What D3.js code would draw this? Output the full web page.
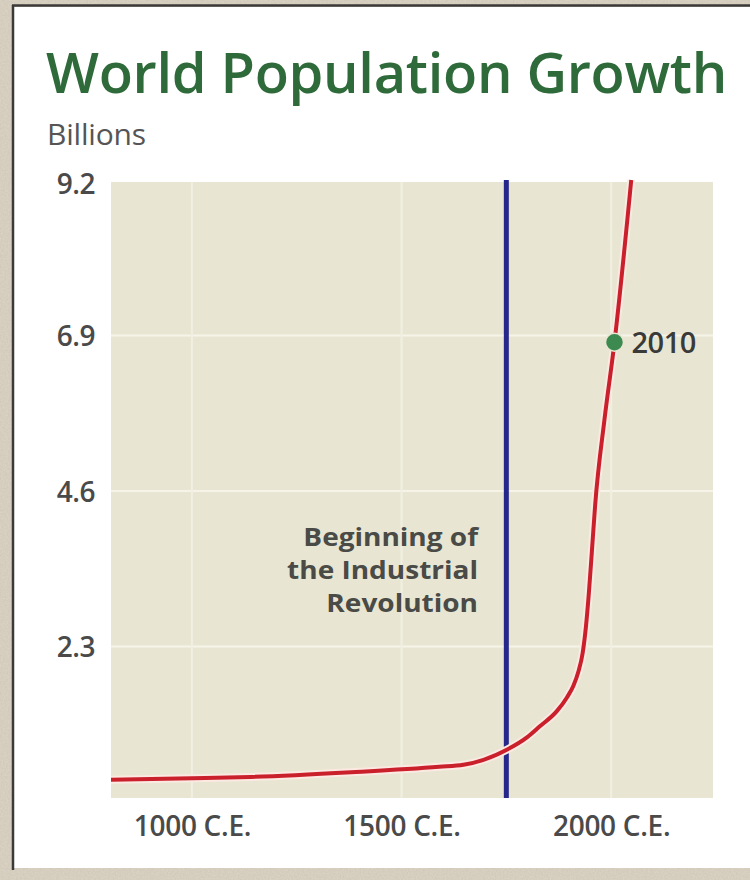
<!DOCTYPE html>
<html>
<head>
<meta charset="utf-8">
<script src="https://cdn.jsdelivr.net/npm/d3@7"></script>
<style>
  body { margin: 0; background: #dcd3c4; }
  svg { display: block; }
  text { font-family: "Open Sans", "Noto Sans", sans-serif; }
</style>
</head>
<body>
<script>
// population curve (year, billions)
var years = [807, 1000, 1140, 1380, 1590, 1648, 1750, 1800, 1830, 1870, 1895, 1910, 1922, 1932, 1940, 1947, 1954, 1962, 1984, 2008, 2048];
var pops  = [0.33, 0.35, 0.37, 0.44, 0.52, 0.55, 0.77, 0.96, 1.12, 1.34, 1.55, 1.72, 1.93, 2.2, 2.6, 3.1, 3.7, 4.4, 5.65, 6.8, 9.2];

var yTicks = [2.3, 4.6, 6.9, 9.2];
var xTicks = [1000, 1500, 2000];
var xTickLabels = ["1000 C.E.", "1500 C.E.", "2000 C.E."];

var industrialYear = 1750;
var markYear = 2008, markPop = 6.8, markLabel = "2010";
var noteLines = ["Beginning of", "the Industrial", "Revolution"];

var W = 750, H = 880;
var plotLeft = 111, plotRight = 713, plotTop = 182, plotBottom = 798;

var svg = d3.select("body").append("svg")
    .attr("width", W)
    .attr("height", H);

////////////////////////////
// stone background + white card
var defs = svg.append("defs");
var f = defs.append("filter").attr("id", "grain").attr("x", 0).attr("y", 0).attr("width", "100%").attr("height", "100%");
f.append("feTurbulence").attr("type", "fractalNoise").attr("baseFrequency", 0.6).attr("numOctaves", 3).attr("seed", 4);
f.append("feColorMatrix").attr("type", "matrix")
    .attr("values", "0 0 0 0 0.45  0 0 0 0 0.4  0 0 0 0 0.33  0 0 0 0.35 0");

svg.append("rect").attr("width", W).attr("height", H).attr("fill", "#ddd5c6");
svg.append("rect").attr("width", W).attr("height", H).attr("filter", "url(#grain)");

svg.append("rect")
    .attr("x", 14).attr("y", 7)
    .attr("width", W - 14).attr("height", 861)
    .attr("fill", "#ffffff");
svg.append("line").attr("x1", 13).attr("x2", 13).attr("y1", 5).attr("y2", 870)
    .attr("stroke", "#3b3a38").attr("stroke-width", 2.5);
svg.append("line").attr("x1", 12).attr("x2", W).attr("y1", 5.5).attr("y2", 5.5)
    .attr("stroke", "#3b3a38").attr("stroke-width", 2.5);

////////////////////////////
// scales
var x = d3.scaleLinear().domain([807, 2243]).range([plotLeft, plotRight]);
var y = d3.scaleLinear().domain([0, 9.2]).range([802, 180]);

// titles
svg.append("text")
    .attr("x", 46).attr("y", 93)
    .attr("font-size", 56).attr("font-weight", 600)
    .attr("letter-spacing", -0.3)
    .attr("fill", "#2f6a3a")
    .text("World Population Growth");

svg.append("text")
    .attr("x", 47).attr("y", 145)
    .attr("font-size", 30)
    .attr("letter-spacing", -0.2)
    .attr("fill", "#555")
    .text("Billions");

////////////////////////////
// plot area
svg.append("rect")
    .attr("x", plotLeft).attr("y", plotTop)
    .attr("width", plotRight - plotLeft).attr("height", plotBottom - plotTop)
    .attr("fill", "#e8e6d2");

svg.selectAll("hGrid")
    .data(yTicks.filter(function(d) { return d < 9.2; }))
    .enter().append("line")
    .attr("x1", plotLeft).attr("x2", plotRight)
    .attr("y1", function(d) { return y(d); })
    .attr("y2", function(d) { return y(d); })
    .attr("stroke", "#f6f4e8").attr("stroke-width", 2);

svg.selectAll("vGrid")
    .data(xTicks)
    .enter().append("line")
    .attr("y1", plotTop).attr("y2", plotBottom)
    .attr("x1", function(d) { return x(d); })
    .attr("x2", function(d) { return x(d); })
    .attr("stroke", "#f1efe2").attr("stroke-width", 2);

// axes (labels only)
var yAxis = svg.append("g")
    .attr("transform", "translate(95,0)")
    .call(d3.axisLeft(y).tickValues(yTicks).tickSize(0).tickPadding(0).tickFormat(d3.format(".1f")));
yAxis.select(".domain").remove();
yAxis.selectAll("text")
    .attr("font-family", "\"Open Sans\", sans-serif")
    .attr("font-size", 28).attr("font-weight", 600)
    .attr("letter-spacing", -0.5)
    .attr("fill", "#4a4a4a")
    .attr("dy", "0.36em")
    .attr("transform", function(d) { return d === 9.2 ? "translate(0,3)" : null; });

var xAxis = svg.append("g")
    .attr("transform", "translate(0," + plotBottom + ")")
    .call(d3.axisBottom(x).tickValues(xTicks).tickSize(0).tickPadding(0)
        .tickFormat(function(d, i) { return xTickLabels[i]; }));
xAxis.select(".domain").remove();
xAxis.selectAll("text")
    .attr("font-family", "\"Open Sans\", sans-serif")
    .attr("font-size", 28).attr("font-weight", 600)
    .attr("letter-spacing", -0.3)
    .attr("fill", "#4a4a4a")
    .attr("dy", "1.35em");

////////////////////////////
// industrial revolution marker
svg.append("line")
    .attr("x1", x(industrialYear)).attr("x2", x(industrialYear))
    .attr("y1", plotTop - 2).attr("y2", plotBottom)
    .attr("stroke", "#25288a").attr("stroke-width", 5);

// note, one text per line, stretched a little sideways
svg.append("g")
    .attr("transform", "translate(478,0) scale(1.12,1)")
    .selectAll("text")
    .data(noteLines)
    .enter().append("text")
    .attr("x", 0)
    .attr("y", function(d, i) { return 546 + i * 33; })
    .attr("text-anchor", "end")
    .attr("font-family", "Lato, sans-serif")
    .attr("font-size", 25).attr("font-weight", 700)
    .attr("fill", "#4a4a46")
    .text(function(d) { return d; });

////////////////////////////
// population line
var pts = years.map(function(d, i) { return [d, pops[i]]; });
var line = d3.line()
    .x(function(d) { return x(d[0]); })
    .y(function(d) { return y(d[1]); })
    .curve(d3.curveMonotoneX);

svg.append("path")
    .datum(pts)
    .attr("d", line)
    .attr("fill", "none")
    .attr("stroke", "#fbe9e2").attr("stroke-width", 8)
    .attr("stroke-linejoin", "round");

svg.append("path")
    .datum(pts)
    .attr("d", line)
    .attr("fill", "none")
    .attr("stroke", "#c9202c").attr("stroke-width", 4)
    .attr("stroke-linejoin", "round");

// 2010 marker
svg.append("circle")
    .attr("cx", x(markYear)).attr("cy", y(markPop))
    .attr("r", 9)
    .attr("fill", "#3c8a4f")
    .attr("stroke", "#e8e6d2").attr("stroke-width", 1.5);

svg.append("text")
    .attr("x", x(markYear) + 17).attr("y", y(markPop))
    .attr("dy", "0.36em")
    .attr("font-size", 29).attr("font-weight", 600)
    .attr("letter-spacing", -0.5)
    .attr("fill", "#3a3a38")
    .text(markLabel);
</script>
</body>
</html>
